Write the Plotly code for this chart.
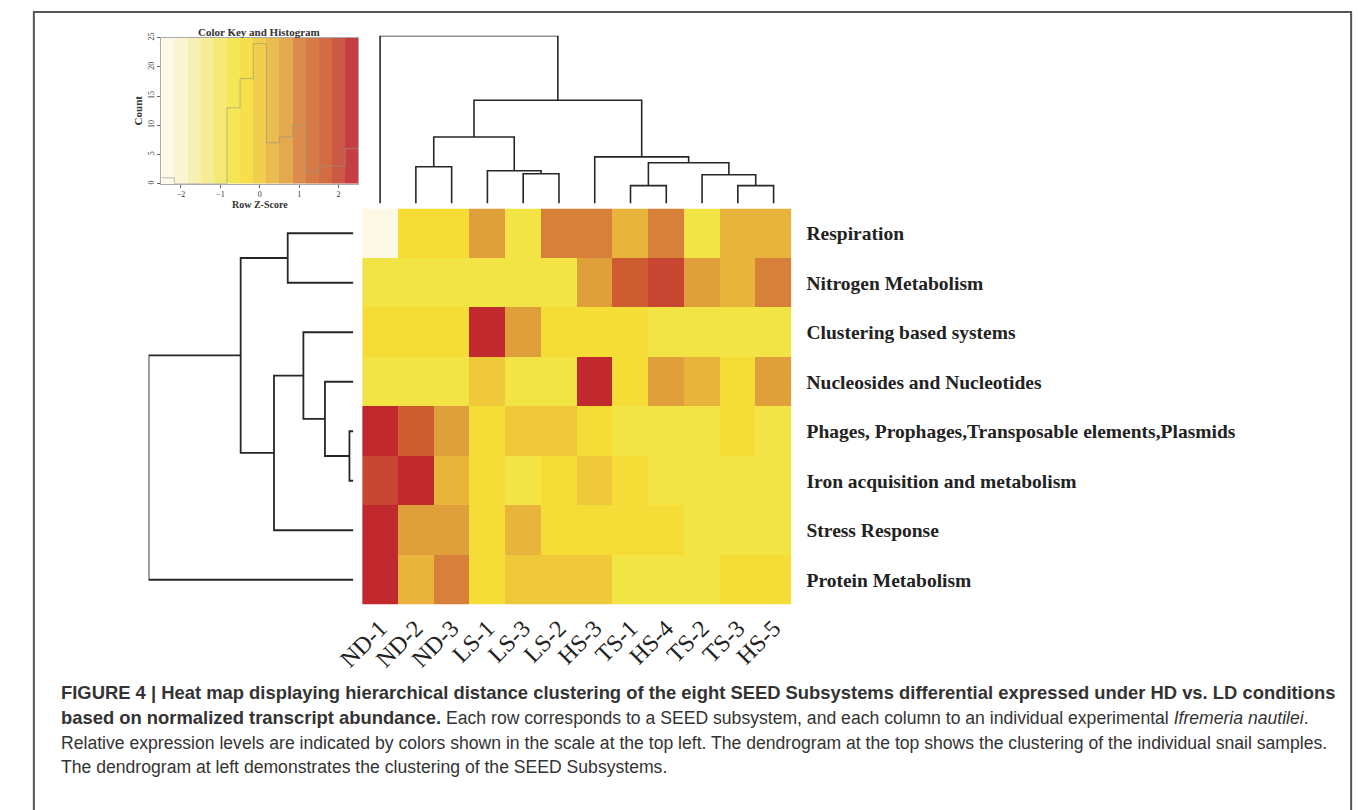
import plotly.graph_objects as go

W, H = 1358, 810

# ---------------- data ----------------
col_labels = ["ND-1", "ND-2", "ND-3", "LS-1", "LS-3", "LS-2", "HS-3", "TS-1", "HS-4", "TS-2", "TS-3", "HS-5"]
row_labels = ["Respiration", "Nitrogen Metabolism", "Clustering based systems",
              "Nucleosides and Nucleotides",
              "Phages, Prophages,Transposable elements,Plasmids",
              "Iron acquisition and metabolism", "Stress Response", "Protein Metabolism"]

# row z-scores (rows top->bottom, columns left->right)
z_respiration = [-2.4, -0.35, -0.35, 0.65, -0.6, 1.0, 1.0, 0.4, 1.0, -0.55, 0.4, 0.4]
z_nitrogen    = [-0.65, -0.65, -0.65, -0.65, -0.65, -0.65, 0.65, 1.6, 2.0, 0.65, 0.4, 1.0]
z_clustering  = [-0.35, -0.35, -0.35, 2.4, 0.65, -0.35, -0.35, -0.35, -0.6, -0.6, -0.6, -0.6]
z_nucleosides = [-0.6, -0.6, -0.6, 0.05, -0.6, -0.6, 2.4, -0.35, 0.65, 0.4, -0.35, 0.65]
z_phages      = [2.4, 1.6, 0.65, -0.35, 0.05, 0.05, -0.35, -0.6, -0.6, -0.6, -0.4, -0.6]
z_iron        = [2.0, 2.4, 0.4, -0.35, -0.7, -0.35, 0.05, -0.4, -0.6, -0.6, -0.6, -0.6]
z_stress      = [2.4, 0.65, 0.65, -0.35, 0.4, -0.35, -0.35, -0.35, -0.35, -0.6, -0.6, -0.6]
z_protein     = [2.4, 0.4, 1.0, -0.35, 0.05, 0.05, 0.05, -0.6, -0.6, -0.6, -0.4, -0.4]
z_rows = [z_respiration, z_nitrogen, z_clustering, z_nucleosides,
          z_phages, z_iron, z_stress, z_protein]

# column dendrogram: merges (child_a, child_b, height); leaves 0..11 in display order
col_merges = [(1, 2, 3.7), (4, 5, 3.0), (3, 13, 3.3), (12, 14, 6.7),
              (7, 8, 1.8), (10, 11, 1.8), (9, 17, 2.9), (16, 18, 4.1),
              (6, 19, 4.7), (15, 20, 10.4), (0, 21, 16.9)]
# row dendrogram: leaves 0..7 in display order (top->bottom)
row_merges = [(4, 5, 0.4), (3, 8, 2.9), (2, 9, 5.1), (10, 6, 8.1),
              (0, 1, 6.7), (12, 11, 11.5), (13, 7, 20.9)]

# colour key: 15 bins over z in [-2.5, 2.5] and histogram counts
key_edges = [-2.5 + i / 3 for i in range(16)]
hist_counts = [1, 0, 0, 0, 0, 13, 18, 24, 7, 8, 10, 2, 3, 3, 6]
key_ticks = [-2, -1, 0, 1, 2]
count_ticks = [0, 5, 10, 15, 20, 25]

palette = ["#fef8e6", "#fbf3cc", "#f8eeaa", "#f5ea88", "#f3e766", "#f2e445",
           "#f5dc37", "#f0c93a", "#e8b43c", "#dfa03c", "#d7803a", "#d26c34",
           "#cd5c31", "#c74632", "#c02a2e"]

# ---------------- helpers ----------------
def px_x(p):
    return p / W

def px_y(p):
    return 1 - p / H

def dendro_lines(n_leaves, merges):
    pos = {i: float(i) for i in range(n_leaves)}
    hgt = {i: 0.0 for i in range(n_leaves)}
    xs, ys = [], []
    nid = n_leaves
    for a, b, h in merges:
        xa, xb = pos[a], pos[b]
        xs += [xa, xa, xb, xb, None]
        ys += [hgt[a], h, h, hgt[b], None]
        pos[nid] = (xa + xb) / 2
        hgt[nid] = h
        nid += 1
    return xs, ys

stepped = []
n = len(palette)
for i, c in enumerate(palette):
    stepped.append([i / n, c])
    stepped.append([(i + 1) / n, c])

serif = "Liberation Serif, Times New Roman, serif"
line_col = "#262626"

fig = go.Figure()

# main heatmap
fig.add_trace(go.Heatmap(z=z_rows, x=list(range(len(col_labels))), y=list(range(len(row_labels))),
                         colorscale=stepped, zmin=-2.5, zmax=2.5, showscale=False,
                         xaxis="x", yaxis="y", hoverinfo="skip"))

# column dendrogram
cx, cy = dendro_lines(len(col_labels), col_merges)
fig.add_trace(go.Scatter(x=cx, y=cy, mode="lines", line=dict(color=line_col, width=1.6),
                         xaxis="x2", yaxis="y2", hoverinfo="skip", showlegend=False))
# row dendrogram
ry, rx = dendro_lines(len(row_labels), row_merges)
fig.add_trace(go.Scatter(x=rx, y=ry, mode="lines", line=dict(color=line_col, width=1.8),
                         xaxis="x3", yaxis="y3", hoverinfo="skip", showlegend=False))

# colour key
key_centers = [(key_edges[i] + key_edges[i + 1]) / 2 for i in range(15)]
fig.add_trace(go.Heatmap(z=[key_centers], x=key_edges, y=[0, 25], colorscale=stepped,
                         zmin=-2.5, zmax=2.5, showscale=False, xaxis="x4", yaxis="y4",
                         hoverinfo="skip", opacity=0.9))
fig.add_trace(go.Scatter(x=key_edges, y=hist_counts + [hist_counts[-1]], mode="lines",
                         line=dict(color="rgba(150,150,130,0.6)", width=1, shape="hv"),
                         xaxis="x4", yaxis="y4", hoverinfo="skip", showlegend=False))

hm_x = [px_x(342), px_x(780)]
hm_y = [px_y(604), px_y(205)]

noax = dict(showgrid=False, zeroline=False, showticklabels=False, ticks="", showline=False)

fig.update_layout(
    width=W, height=H, autosize=False,
    margin=dict(l=0, r=0, t=0, b=0),
    paper_bgcolor="white", plot_bgcolor="white",
    showlegend=False,
    xaxis=dict(domain=hm_x, range=[-0.5, 11.5], tickvals=list(range(12)), ticktext=col_labels,
               tickangle=-45, tickfont=dict(family=serif, size=24, color="#222"),
               showgrid=False, zeroline=False, ticks="", showline=False, ticklabelstandoff=4),
    yaxis=dict(domain=hm_y, range=[7.5, -0.5], tickvals=list(range(8)), ticktext=row_labels,
               side="right", tickfont=dict(family=serif, size=19.5, color="#222", weight="bold"),
               showgrid=False, zeroline=False, ticks="", showline=False, ticklabelstandoff=14),
    xaxis2=dict(domain=hm_x, range=[-0.5, 11.5], anchor="y2", **noax),
    yaxis2=dict(domain=[px_y(200), px_y(31)], range=[0, 16.9], anchor="x2", **noax),
    xaxis3=dict(domain=[px_x(124), px_x(333)], range=[20.9, 0], anchor="y3", **noax),
    yaxis3=dict(domain=hm_y, range=[7.5, -0.5], anchor="x3", **noax),
    xaxis4=dict(domain=[px_x(137), px_x(338)], range=[-2.5, 2.5], anchor="y4",
                tickvals=key_ticks, ticks="outside", ticklen=3, tickcolor="#666",
                tickfont=dict(family=serif, size=8, color="#333"),
                showgrid=False, zeroline=False, showline=True, linecolor="#aaa", mirror=True,
                title=dict(text="<b>Row Z-Score</b>", font=dict(family=serif, size=10, color="#333"),
                           standoff=2)),
    yaxis4=dict(domain=[px_y(180), px_y(33)], range=[0, 25], anchor="x4",
                tickvals=count_ticks, ticks="outside", ticklen=3, tickcolor="#666", tickangle=-90,
                tickfont=dict(family=serif, size=8, color="#333"),
                showgrid=False, zeroline=False, showline=True, linecolor="#aaa", mirror=True,
                title=dict(text="<b>Count</b>", font=dict(family=serif, size=11, color="#333"),
                           standoff=2)),
)

# colour key title
fig.add_annotation(text="<b>Color Key and Histogram</b>", x=px_x(237), y=px_y(27), xref="paper", yref="paper",
                   showarrow=False, font=dict(family=serif, size=11, color="#333"), xanchor="center", yanchor="middle")

# frame (open at the bottom edge of the picture)
fig.add_shape(type="rect", xref="paper", yref="paper", x0=px_x(7), x1=px_x(1351), y0=px_y(816), y1=px_y(7),
              line=dict(color="#555", width=2))

cap_font = "Liberation Sans, Arial, sans-serif"
B = "<span style='font-size:18.4px'><b>{}</b></span>"
captions = [
    B.format("FIGURE 4 | Heat map displaying hierarchical distance clustering of the eight SEED Subsystems differential expressed under HD vs. LD conditions"),
    B.format("based on normalized transcript abundance.") + " Each row corresponds to a SEED subsystem, and each column to an individual experimental <i>Ifremeria nautilei</i>.",
    "Relative expression levels are indicated by colors shown in the scale at the top left. The dendrogram at the top shows the clustering of the individual snail samples.",
    "The dendrogram at left demonstrates the clustering of the SEED Subsystems.",
]
cap_y = [693, 718, 744, 768]
for t, yy in zip(captions, cap_y):
    fig.add_annotation(text=t, x=px_x(33), y=px_y(yy), xref="paper", yref="paper", showarrow=False,
                       xanchor="left", yanchor="middle", align="left",
                       font=dict(family=cap_font, size=17.6, color="#333"))

fig.write_html("out.html", config={"displayModeBar": False, "staticPlot": True},
               post_script="document.body.style.margin='0';document.body.style.padding='0';"
                           "document.body.style.overflow='hidden';")
